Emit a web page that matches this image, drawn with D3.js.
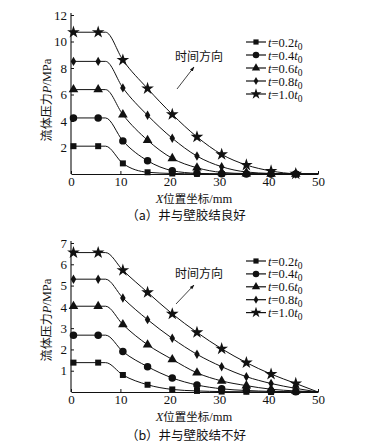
<!DOCTYPE html>
<html><head><meta charset="utf-8">
<script src="https://cdn.jsdelivr.net/npm/d3@7"></script>
<style>
html,body{margin:0;padding:0;background:#fff;}
svg{display:block;}
text{font-family:"Liberation Serif","Noto Sans CJK SC",serif;fill:#111;}
.cjk{font-family:"Noto Sans CJK SC","Liberation Serif",sans-serif;}
</style></head>
<body>
<script>
// ---------- data ----------
const seriesLabels = ["0.2", "0.4", "0.6", "0.8", "1.0"];
const markerX = [0.5, 5.5, 10.5, 15.5, 20.5, 25.5, 30.5, 35.5, 40.5, 45.5];
const flatEnd = 7;
const xEnd = 50;
// panel (a)
const a02 = [2.1, 2.1, 0.8, 0.13, 0.04, 0.01, 0, 0, 0, 0];
const a04 = [4.23, 4.23, 2.5, 1.0, 0.25, 0.05, 0.01, 0, 0, 0];
const a06 = [6.37, 6.37, 4.48, 2.55, 1.18, 0.47, 0.12, 0.03, 0.01, 0];
const a08 = [8.5, 8.5, 6.5, 4.43, 2.7, 1.35, 0.55, 0.15, 0.04, 0];
const a10 = [10.7, 10.7, 8.6, 6.45, 4.5, 2.8, 1.48, 0.68, 0.23, 0.02];
// panel (b)
const b02 = [1.38, 1.38, 0.8, 0.34, 0.12, 0.05, 0.02, 0.01, 0, 0];
const b04 = [2.67, 2.67, 1.9, 1.19, 0.66, 0.33, 0.15, 0.07, 0.03, 0.01];
const b06 = [4.03, 4.03, 3.17, 2.22, 1.53, 0.9, 0.52, 0.3, 0.13, 0.05];
const b08 = [5.3, 5.3, 4.42, 3.4, 2.52, 1.77, 1.19, 0.72, 0.4, 0.17];
const b10 = [6.55, 6.55, 5.72, 4.68, 3.67, 2.8, 2.03, 1.38, 0.84, 0.4];
const xTicks = [0, 10, 20, 30, 40, 50];
const yTicksA = [2, 4, 6, 8, 10, 12];
const yTicksB = [1, 2, 3, 4, 5, 6, 7];
const yLabelCjk = "流体压力";
const xLabelCjk = "位置坐标/mm";
const annotation = "时间方向";
const captionA = "（a）井与壁胶结良好";
const captionB = "（b）井与壁胶结不好";

const symbols = [d3.symbolSquare, d3.symbolCircle, d3.symbolTriangle, d3.symbolDiamond, d3.symbolStar];
const symSizes = [36, 44, 40, 26, 50];

const svg = d3.select("body").append("svg").attr("width", 378).attr("height", 445);

function panel(cfg) {
  const x = d3.scaleLinear().domain([0, 50]).range([71, 318]);
  const y = d3.scaleLinear().domain([0, cfg.yMax]).range([cfg.y0, cfg.yTop]);
  const g = svg.append("g");

  // axes
  const xa = g.append("g").attr("transform", `translate(0,${cfg.y0})`)
    .call(d3.axisBottom(x).tickValues(xTicks).tickFormat(d3.format("d")).tickSizeInner(-3).tickSizeOuter(0).tickPadding(3));
  const ya = g.append("g").attr("transform", `translate(71,0)`)
    .call(d3.axisLeft(y).tickValues(cfg.yTicks).tickFormat(d3.format("d")).tickSizeInner(-3).tickSizeOuter(0).tickPadding(4));
  [xa, ya].forEach(a => {
    a.select(".domain").attr("stroke", "#111").attr("stroke-width", 1.1);
    a.selectAll(".tick line").attr("stroke", "#111");
    a.selectAll("text").style("font-family", "Liberation Serif").style("font-size", "13px").attr("fill", "#111");
  });
  ya.select(".domain").attr("d", `M0,${cfg.y0}V${cfg.yTop - 2}`);

  // curves
  const line = d3.line().x(d => x(d[0])).y(d => y(d[1])).curve(d3.curveMonotoneX);
  cfg.series.forEach((vals, i) => {
    const pts = [[0, vals[0]], [markerX[0], vals[0]], [markerX[1], vals[1]], [flatEnd, vals[1]]];
    for (let k = 2; k < markerX.length; k++) pts.push([markerX[k], vals[k]]);
    pts.push([xEnd, 0]);
    g.append("path").attr("d", line(pts)).attr("fill", "none").attr("stroke", "#111").attr("stroke-width", 1);
    g.selectAll(null).data(vals).enter().append("path")
      .attr("transform", (d, k) => `translate(${x(markerX[k])},${y(d)})`)
      .attr("d", d3.symbol().type(symbols[i]).size(symSizes[i]))
      .attr("fill", "#111");
  });

  // legend
  seriesLabels.forEach((lab, i) => {
    const ly = cfg.legY + i * cfg.legStep;
    g.append("line").attr("x1", 246).attr("x2", 266).attr("y1", ly).attr("y2", ly).attr("stroke", "#111").attr("stroke-width", 1.2);
    g.append("path").attr("transform", `translate(256,${ly})`)
      .attr("d", d3.symbol().type(symbols[i]).size(symSizes[i] * 0.75)).attr("fill", "#111");
    const t = g.append("text").attr("x", 268).attr("y", ly + 4.5).style("font-size", "12.5px");
    t.append("tspan").style("font-style", "italic").text("t");
    t.append("tspan").text("=" + lab);
    t.append("tspan").style("font-style", "italic").text("t");
    t.append("tspan").attr("dy", 3).style("font-size", "9.5px").text("0");
  });

  // annotation
  g.append("text").attr("class", "cjk").attr("x", 175).attr("y", cfg.annY).style("font-size", "12px").text(annotation);
  const defsId = "arr" + cfg.id;
  svg.append("defs").append("marker").attr("id", defsId).attr("viewBox", "0 0 10 10")
    .attr("refX", 9).attr("refY", 5).attr("markerWidth", 6).attr("markerHeight", 6).attr("orient", "auto")
    .append("path").attr("d", "M0,1.5L10,5L0,8.5Z").attr("fill", "#111");
  g.append("line").attr("x1", cfg.arr[0]).attr("y1", cfg.arr[1]).attr("x2", cfg.arr[2]).attr("y2", cfg.arr[3])
    .attr("stroke", "#111").attr("stroke-width", 0.8).attr("marker-end", `url(#${defsId})`);

  // y label
  const yl = g.append("text").attr("transform", `translate(51,${cfg.yLabY}) rotate(-90)`)
    .attr("text-anchor", "middle").style("font-size", "12.5px");
  yl.append("tspan").style("font-family", "Noto Sans CJK SC").style("font-size", "12px").text(yLabelCjk);
  yl.append("tspan").style("font-style", "italic").text("P");
  yl.append("tspan").text("/MPa");

  // x label
  const xl = g.append("text").attr("x", 194).attr("y", cfg.xLabY).attr("text-anchor", "middle").style("font-size", "12.5px");
  xl.append("tspan").style("font-style", "italic").text("X");
  xl.append("tspan").style("font-family", "Noto Sans CJK SC").style("font-size", "11.5px").text(xLabelCjk.slice(0, 4));
  xl.append("tspan").text(xLabelCjk.slice(4));

  // caption
  g.append("text").attr("class", "cjk").attr("x", 186).attr("y", cfg.capY).attr("text-anchor", "middle")
    .style("font-size", "12.5px").text(cfg.caption);
}

panel({id: "a", yMax: 12, y0: 174, yTop: 15, yTicks: yTicksA, series: [a02, a04, a06, a08, a10],
  legY: 42, legStep: 13, annY: 61, arr: [177, 89, 194, 67], yLabY: 100, xLabY: 203, capY: 220, caption: captionA});
panel({id: "b", yMax: 7, y0: 392, yTop: 243, yTicks: yTicksB, series: [b02, b04, b06, b08, b10],
  legY: 261, legStep: 12.9, annY: 278, arr: [176, 304, 194, 285], yLabY: 320, xLabY: 421, capY: 440, caption: captionB});
</script>
</body></html>
